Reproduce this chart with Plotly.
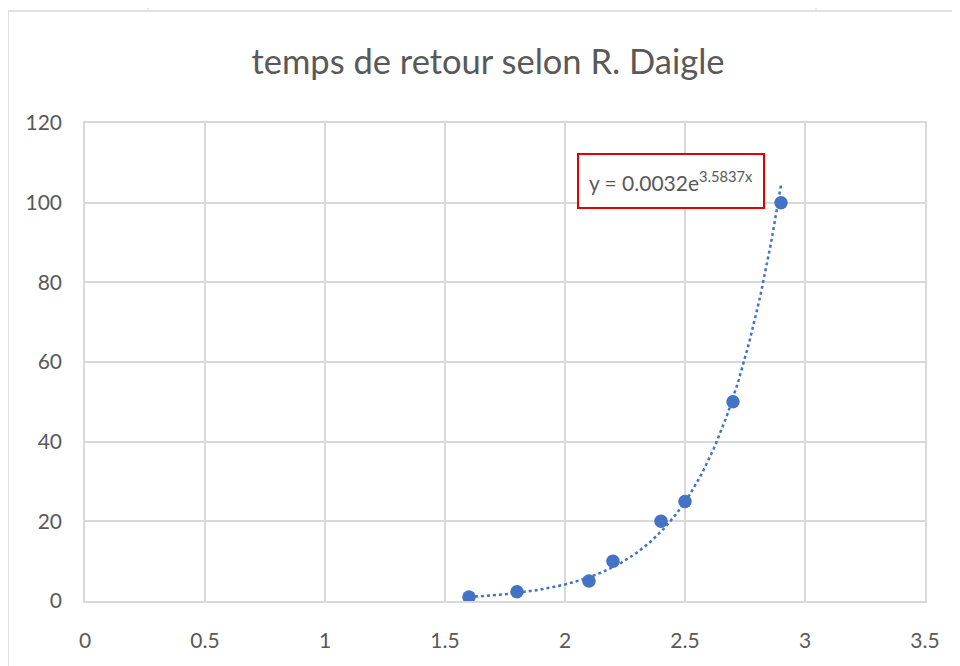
import numpy as np
import plotly.graph_objects as go

# data
x_vals = [1.6, 1.8, 2.1, 2.2, 2.4, 2.5, 2.7, 2.9]
y_vals = [1, 2.33, 5, 10, 20, 25, 50, 100]

# exponential trendline coefficients as printed on the chart
coef_a = 0.0032
coef_b = 3.5837

x_ticks = [0, 0.5, 1, 1.5, 2, 2.5, 3, 3.5]
x_tick_text = ['0', '0.5', '1', '1.5', '2', '2.5', '3', '3.5']
y_ticks = [0, 20, 40, 60, 80, 100, 120]

BLUE = '#4472C4'
GREY_TXT = '#595959'
GRID = '#d9d9d9'
FONT = 'Lato'

# the page body adds 8px, so everything is laid out 8px up/left of the target
OFF = 8
W, H = 960, 666
L, T = 85 - OFF, 123 - OFF
PW, PH = 840, 478
R, B = W - L - PW, H - T - PH


def px_x(p):
    return (p - OFF - L) / PW


def px_y(p):
    return (T + PH - (p - OFF)) / PH


trend_x = np.linspace(min(x_vals), max(x_vals), 200)
trend_y = coef_a * np.exp(coef_b * trend_x)

fig = go.Figure()
fig.add_trace(go.Scatter(x=trend_x, y=trend_y, mode='lines',
                         line=dict(color=BLUE, width=2.5, dash='dot'),
                         hoverinfo='skip', showlegend=False))
fig.add_trace(go.Scatter(x=x_vals, y=y_vals, mode='markers',
                         marker=dict(color=BLUE, size=13.5),
                         showlegend=False))

# outer chart frame (top and left edges visible in the crop)
shapes = [
    dict(type='line', xref='paper', yref='paper', x0=px_x(8), x1=px_x(W + OFF), y0=px_y(11), y1=px_y(11),
         line=dict(color=GRID, width=1.5)),
    dict(type='line', xref='paper', yref='paper', x0=px_x(8), x1=px_x(8), y0=px_y(11), y1=px_y(H + OFF),
         line=dict(color=GRID, width=1.5)),
]
# little sheet marks on the far left / top
for i in range(15):
    yy = 28 + i * 43.43
    shapes.append(dict(type='line', xref='paper', yref='paper', x0=px_x(8), x1=px_x(8),
                       y0=px_y(yy), y1=px_y(yy), line=dict(color=GRID, width=1)))
for xx in [148, 816]:
    shapes.append(dict(type='line', xref='paper', yref='paper', x0=px_x(xx), x1=px_x(xx),
                       y0=px_y(8), y1=px_y(11), line=dict(color=GRID, width=1)))

fig.update_layout(
    width=W, height=H,
    margin=dict(l=L, r=R, t=T, b=B),
    paper_bgcolor='white', plot_bgcolor='white',
    font=dict(family=FONT, color=GREY_TXT, size=21),
    title=dict(text='temps de retour selon R. Daigle', x=px_x(488), xanchor='center',
               y=1 - (62 - OFF) / H, yanchor='middle', xref='paper',
               font=dict(family=FONT, size=34.5, color=GREY_TXT)),
    shapes=shapes,
    annotations=[dict(
        x=px_x(671), y=px_y(181), xref='paper', yref='paper',
        xanchor='center', yanchor='middle',
        text='y = 0.0032e<sup>3.5837x</sup>', showarrow=False,
        font=dict(family=FONT, size=21, color=GREY_TXT),
        bordercolor='#e00000', borderwidth=2, borderpad=1,
        width=182, height=50, bgcolor='white',
    )],
)
fig.update_xaxes(range=[0, 3.5], tickvals=x_ticks, ticktext=x_tick_text,
                 showgrid=True, gridcolor=GRID, gridwidth=1.5,
                 showline=True, linecolor=GRID, linewidth=1.5, mirror=True,
                 zeroline=False, ticks='', ticklabelstandoff=20)
fig.update_yaxes(range=[0, 120], tickvals=y_ticks,
                 showgrid=True, gridcolor=GRID, gridwidth=1.5,
                 showline=True, linecolor=GRID, linewidth=1.5, mirror=True,
                 zeroline=False, ticks='', ticklabelstandoff=17)

fig.write_html('out.html')
